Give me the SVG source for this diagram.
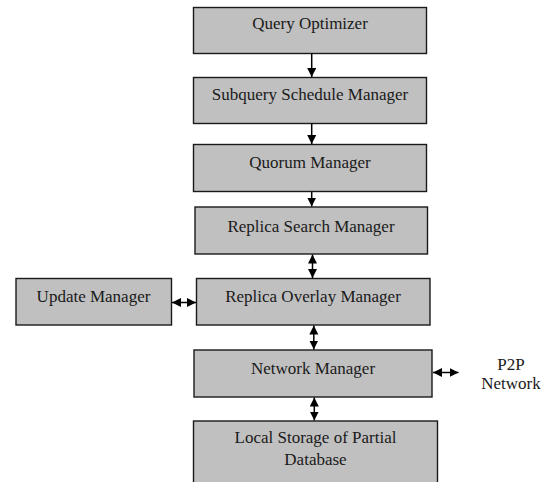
<svg xmlns="http://www.w3.org/2000/svg" width="545" height="482" viewBox="0 0 545 482">
<style>
.box{fill:#c0c0c0;stroke:#1a1a1a;stroke-width:1.4}
.lbl{font-family:"Liberation Serif","Times New Roman",serif;font-size:17px;fill:#1a1a1a;text-anchor:middle}
.conn{stroke:#000;stroke-width:1.5;fill:none}
</style>
<defs>
<marker id="ah" markerUnits="userSpaceOnUse" markerWidth="10" markerHeight="10" refX="9" refY="4.5" orient="auto-start-reverse">
<path d="M0,0 L9,4.5 L0,9 z" fill="#000"/>
</marker>
</defs>
<rect width="545" height="482" fill="#fff"/>
<g id="query-optimizer"><rect class="box" x="193.5" y="7.5" width="233" height="46"/><text class="lbl" x="310" y="29">Query Optimizer</text></g>
<g id="subquery-schedule-manager"><rect class="box" x="193.5" y="77.5" width="233" height="46"/><text class="lbl" x="310" y="100">Subquery Schedule Manager</text></g>
<g id="quorum-manager"><rect class="box" x="193.5" y="144.5" width="233" height="47"/><text class="lbl" x="310" y="168">Quorum Manager</text></g>
<g id="replica-search-manager"><rect class="box" x="195" y="207" width="232.5" height="47"/><text class="lbl" x="311" y="231.5">Replica Search Manager</text></g>
<g id="replica-overlay-manager"><rect class="box" x="196.5" y="278.5" width="233.5" height="46.5"/><text class="lbl" x="313" y="301.5">Replica Overlay Manager</text></g>
<g id="update-manager"><rect class="box" x="16" y="278.5" width="155.5" height="46.5"/><text class="lbl" x="93.5" y="301.5">Update Manager</text></g>
<g id="network-manager"><rect class="box" x="194" y="350" width="238" height="47"/><text class="lbl" x="313" y="373.5">Network Manager</text></g>
<g id="local-storage"><rect class="box" x="193.5" y="421" width="244" height="70"/><text class="lbl" x="315.5" y="442.5">Local Storage of Partial</text><text class="lbl" x="315.5" y="465">Database</text></g>
<g id="p2p-network"><text class="lbl" x="511" y="370">P2P</text><text class="lbl" x="511" y="389">Network</text></g>
<g id="connectors">
<line class="conn" x1="311.7" y1="53.5" x2="311.7" y2="77" marker-end="url(#ah)"/>
<line class="conn" x1="311.7" y1="123.5" x2="311.7" y2="144" marker-end="url(#ah)"/>
<line class="conn" x1="311.7" y1="191.5" x2="311.7" y2="206.5" marker-end="url(#ah)"/>
<line class="conn" x1="312.5" y1="254.5" x2="312.5" y2="278" marker-start="url(#ah)" marker-end="url(#ah)"/>
<line class="conn" x1="172" y1="302.5" x2="196" y2="302.5" marker-start="url(#ah)" marker-end="url(#ah)"/>
<line class="conn" x1="313.8" y1="325.5" x2="313.8" y2="349.5" marker-start="url(#ah)" marker-end="url(#ah)"/>
<line class="conn" x1="314.3" y1="397.5" x2="314.3" y2="420.5" marker-start="url(#ah)" marker-end="url(#ah)"/>
<line class="conn" x1="433" y1="372.5" x2="458.5" y2="372.5" marker-start="url(#ah)" marker-end="url(#ah)"/>
</g>
</svg>
